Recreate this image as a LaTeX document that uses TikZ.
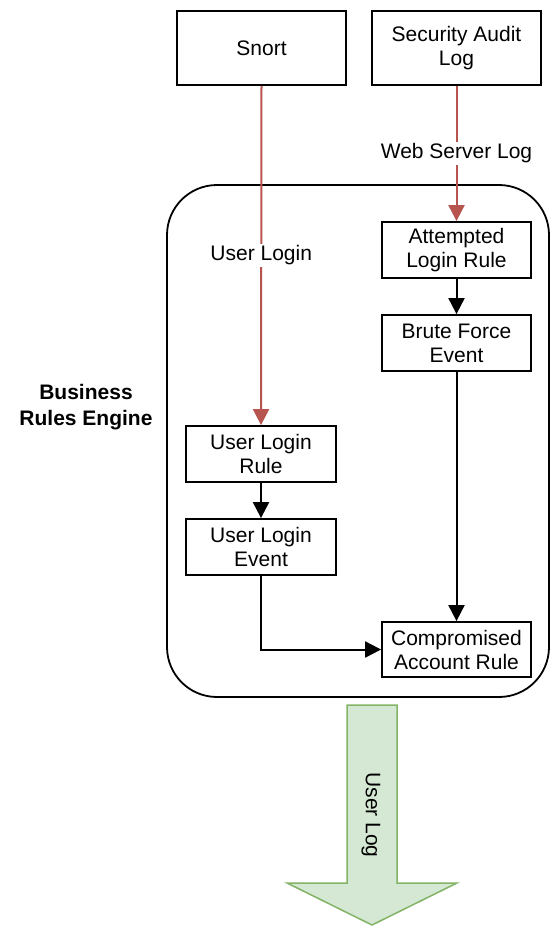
\documentclass[tikz,border=0pt]{standalone}
\usepackage{fontspec}
\setmainfont{Liberation Sans}
\usepackage{tikz}
\usetikzlibrary{arrows.meta}
\definecolor{logred}{HTML}{B85450}
\definecolor{logfill}{HTML}{D5E8D4}
\definecolor{logedge}{HTML}{82B366}
\tikzset{
	srcbox/.style={draw, line width=1.8pt, minimum width=169pt, minimum height=74pt, align=center, inner sep=0pt},
	rulebox/.style={draw, line width=1.8pt, minimum width=149pt, minimum height=56pt, align=center, inner sep=0pt},
	redflow/.style={logred, line width=2pt, -{Triangle[length=16pt,width=16pt]}},
	blackflow/.style={black, line width=2pt, -{Triangle[length=16pt,width=16pt]}},
	flowlabel/.style={fill=white, text=black, inner sep=2pt}
}

\begin{document}
\begin{tikzpicture}[x=1pt,y=-1pt,font=\fontsize{21}{24}\selectfont]
		\useasboundingbox (0,0) rectangle (550,926);
		\draw[line width=1.8pt, rounded corners=50pt] (167,185) rectangle (549,697);
		\node[align=center, font=\fontsize{21}{26}\selectfont\bfseries] (engine) at (86,407) {Business\\Rules Engine};
		\node[srcbox] (snort) at (261.5,48) {Snort};
		\node[srcbox] (audit) at (456.5,48) {Security Audit\\Log};
		\node[rulebox] (attempt) at (456.5,250) {Attempted\\Login Rule};
		\node[rulebox] (brute) at (456.5,343) {Brute Force\\Event};
		\node[rulebox, minimum width=150pt] (loginrule) at (261,454) {User Login\\Rule};
		\node[rulebox, minimum width=150pt] (loginevent) at (261,547) {User Login\\Event};
		\node[rulebox, minimum height=55pt] (account) at (456.5,649.5) {Compromised\\Account Rule};
		\draw[redflow] (snort.south) -- (loginrule.north) node[pos=0.5, flowlabel]{User Login};
		\draw[redflow] (audit.south) -- (attempt.north) node[pos=0.5, flowlabel]{Web Server Log};
		\draw[blackflow] (attempt) -- (brute);
		\draw[blackflow] (brute) -- (account);
		\draw[blackflow] (loginrule) -- (loginevent);
		\draw[blackflow] (loginevent.south) |- (account.west);
		\draw[logedge, fill=logfill, line width=1.5pt] (347,705) -- (397,705) -- (397,883) -- (457,883) -- (372,925) -- (287,883) -- (347,883) -- cycle;
		\node[rotate=-90] (userlog) at (371,815) {User Log};
	\end{tikzpicture}
\end{document}
